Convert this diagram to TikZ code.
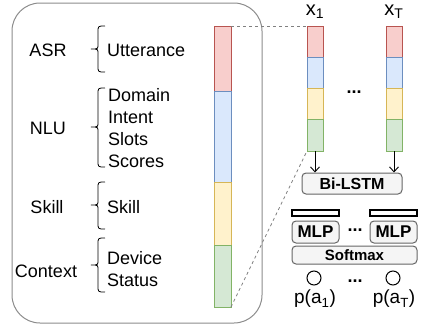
\documentclass[tikz,border=0pt]{standalone}
\usepackage{fontspec}
\setmainfont{Liberation Sans}
\usetikzlibrary{arrows.meta}
\definecolor{rfill}{HTML}{F8CECC}\definecolor{rdraw}{HTML}{B85450}
\definecolor{bfill}{HTML}{DAE8FC}\definecolor{bdraw}{HTML}{6C8EBF}
\definecolor{yfill}{HTML}{FFF2CC}\definecolor{ydraw}{HTML}{D6B656}
\definecolor{gfill}{HTML}{D5E8D4}\definecolor{gdraw}{HTML}{82B366}
\definecolor{boxfill}{HTML}{F5F5F5}\definecolor{boxdraw}{HTML}{666666}
\definecolor{outer}{HTML}{8C8C8C}
\tikzset{
  seg/.style={line width=1pt},
  lbl/.style={inner sep=0pt,font=\fontsize{18}{20}\selectfont},
  item/.style={inner sep=0pt,anchor=west,font=\fontsize{18}{20}\selectfont},
  gbox/.style={draw=boxdraw,fill=boxfill,line width=1pt,rounded corners=4pt},
  wbar/.style={draw=black,fill=white,line width=1.3pt},
  dotsnode/.style={inner sep=0pt,anchor=base,font=\fontsize{18}{20}\selectfont\bfseries},
  brc/.style={line width=0.8pt},
  zoomline/.style={dashed,draw=gray,line width=0.8pt},
  arr/.style={-{Straight Barb[length=5pt,width=9pt]},line width=0.9pt},
  outnode/.style={circle,draw=black,line width=1pt,minimum size=14pt,inner sep=0pt}
}
\begin{document}
\begin{tikzpicture}[x=1pt,y=-1pt]
\useasboundingbox (0,0) rectangle (421,327);
% outer box
\draw[outer,line width=1pt,rounded corners=28pt] (12,3) rectangle (262,323);
% big bar
\draw[seg,draw=rdraw,fill=rfill] (214,26) rectangle (231,91);
\draw[seg,draw=bdraw,fill=bfill] (214,91) rectangle (231,182);
\draw[seg,draw=ydraw,fill=yfill] (214,182) rectangle (231,245);
\draw[seg,draw=gdraw,fill=gfill] (214,245) rectangle (231,307);
\coordinate (bigTR) at (231,26);
\coordinate (bigBR) at (231,307);
% left labels
\node[lbl] (asr) at (48,50) {ASR};
\node[lbl] (nlu) at (48,128) {NLU};
\node[lbl] (skl) at (47,207) {Skill};
\node[lbl] (ctx) at (46,271) {Context};
% braces
\newcommand{\mybrace}[3]{% top, bottom, mid
  \draw[brc] (105,#1) .. controls (98,#1) .. (98,#1+6) -- (98,#3-5)
    .. controls (98,#3) .. (91,#3) .. controls (98,#3) .. (98,#3+5) -- (98,#2-6)
    .. controls (98,#2) .. (105,#2);}
\mybrace{26}{72}{49}
\mybrace{88}{167}{127}
\mybrace{182}{229}{205}
\mybrace{238}{292}{265}
% items
\node[item] (utt) at (107,50) {Utterance};
\node[item] (dom) at (108,95) {Domain};
\node[item] (int) at (108,117) {Intent};
\node[item] (slo) at (108,139) {Slots};
\node[item] (sco) at (108,161) {Scores};
\node[item] (ski) at (107,207) {Skill};
\node[item] (dev) at (107,258) {Device};
\node[item] (sta) at (107,280) {Status};
% x1 column
\draw[seg,draw=rdraw,fill=rfill] (307,26) rectangle (323,57);
\draw[seg,draw=bdraw,fill=bfill] (307,57) rectangle (323,88);
\draw[seg,draw=ydraw,fill=yfill] (307,88) rectangle (323,119);
\draw[seg,draw=gdraw,fill=gfill] (307,119) rectangle (323,151);
% xT column
\draw[seg,draw=rdraw,fill=rfill] (386,26) rectangle (402,57);
\draw[seg,draw=bdraw,fill=bfill] (386,57) rectangle (402,88);
\draw[seg,draw=ydraw,fill=yfill] (386,88) rectangle (402,119);
\draw[seg,draw=gdraw,fill=gfill] (386,119) rectangle (402,151);
\coordinate (c1TL) at (307,26);
\coordinate (c1BL) at (307,151);
\coordinate (c1B) at (315,151);
\coordinate (cTB) at (394,151);
\node[lbl,font=\fontsize{20}{22}\selectfont] (x1) at (315,12) {x\textsubscript{1}};
\node[lbl,font=\fontsize{20}{22}\selectfont] (xT) at (394,12) {x\textsubscript{T}};
\node[dotsnode] (d1) at (354,93) {...};
% dashed zoom lines
\draw[zoomline] (bigTR) -- (c1TL);
\draw[zoomline] (bigBR) -- (c1BL);
% model
\node[gbox,minimum width=100pt,minimum height=21pt,font=\fontsize{16}{18}\selectfont\bfseries] (lstm) at (352,183.5) {Bi-LSTM};
\draw[arr] (c1B) -- (lstm.north -| c1B);
\draw[arr] (cTB) -- (lstm.north -| cTB);
\draw[wbar] (292,210) rectangle (339,216);
\draw[wbar] (370,210) rectangle (417,216);
\node[gbox,minimum width=47pt,minimum height=22pt,inner sep=0pt,font=\fontsize{17}{18}\selectfont\bfseries] (mlp1) at (315.5,232) {MLP};
\node[gbox,minimum width=47pt,minimum height=22pt,inner sep=0pt,font=\fontsize{17}{18}\selectfont\bfseries] (mlp2) at (393.5,232) {MLP};
\node[dotsnode] (d2) at (355,231) {...};
\node[gbox,minimum width=125pt,minimum height=18pt,inner sep=0pt,font=\fontsize{15}{16}\selectfont\bfseries] (soft) at (354.5,255) {Softmax};
\node[outnode] (o1) at (314,278) {};
\node[outnode] (oT) at (393,278) {};
\node[dotsnode] (d3) at (355,282) {...};
\node[lbl,font=\fontsize{19}{20}\selectfont] (p1) at (315,299) {p(a\textsubscript{1})};
\node[lbl,font=\fontsize{19}{20}\selectfont] (pT) at (394,299) {p(a\textsubscript{T})};
\end{tikzpicture}
\end{document}
